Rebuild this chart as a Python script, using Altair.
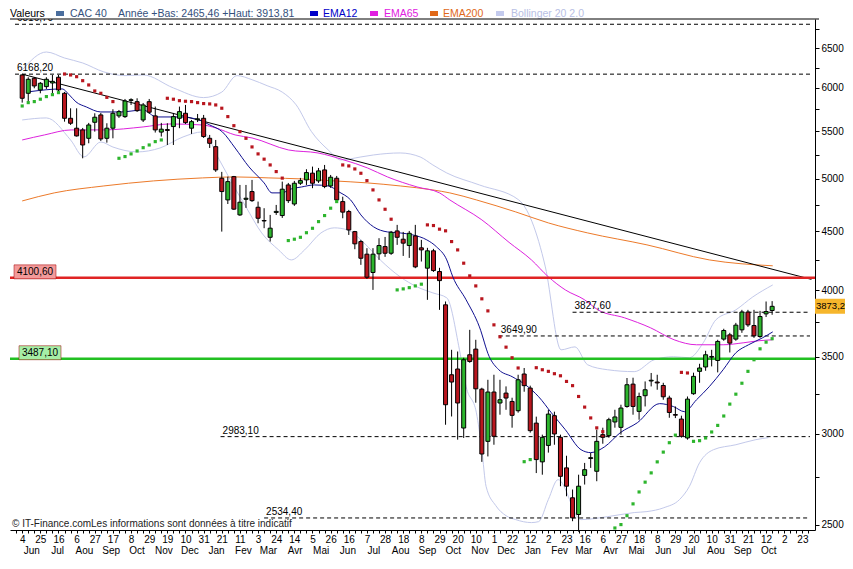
import json
import altair as alt
import pandas as pd

START = pd.Timestamp("2007-06-04")  # week index 0 (weekly candles)

opens = [6158,5936,6118,5976,6016,6060,6130,5936,5646,5535,5516,5424,5601,5684,5424,5535,5673,5665,5852,5837,
         5627,5837,5673,5492,5520,5553,5646,5703,5535,5630,5646,5424,5334,5007,4794,5023,4652,4800,4875,4724,
         4600,4448,4675,4646,4940,4755,4957,4990,5058,4980,5091,4930,5007,4778,4684,4499,4410,4300,4145,4303,
         4366,4308,4505,4431,4375,4460,4355,4181,4329,4153,3885,3377,3416,3035,3515,3555,3281,2955,3262,3191,
         3255,3201,3142,3382,3288,3065,2836,2931,3111,2979,2802,2639,2552,2760,2855,2783,2995,2989,3072,3039,
         3169,3314,3138,3238,3335,3328,3305,3223,3118,3090,2975,3251,3400,3430,3498,3475,3627,3658,3627,3695,
         3829,3727,3646,3815,3841]
highs = [6168,6130,6133,6072,6130,6158,6158,5952,5760,5760,5538,5594,5703,5707,5590,5749,5741,5869,5877,5877,
         5822,5869,5780,5594,5590,5707,5780,5799,5627,5695,5684,5461,5406,5071,5023,5030,4940,4940,4990,4778,
         4715,4652,4746,4973,4960,4980,5010,5098,5125,5111,5142,5040,5030,4825,4699,4505,4425,4352,4352,4440,
         4451,4505,4560,4496,4505,4560,4425,4355,4346,4184,3911,3550,3538,3494,3695,3622,3290,3343,3377,3343,
         3299,3225,3377,3423,3304,3105,2995,3148,3136,2995,2871,2683,2764,2830,2887,3025,3037,3098,3148,3180,
         3355,3357,3258,3332,3389,3377,3323,3238,3169,3111,3233,3391,3452,3543,3550,3622,3703,3673,3747,3846,
         3846,3846,3838,3911,3913.81]
lows = [5826,5838,5996,5936,5988,5936,5940,5608,5571,5443,5211,5370,5497,5395,5377,5424,5650,5650,5799,5718,
        5604,5695,5487,5443,5352,5352,5535,5582,5472,5604,5428,5320,5071,4499,4755,4699,4643,4718,4775,4575,
        4530,4410,4652,4624,4765,4737,4940,4940,4908,4960,4908,4911,4775,4621,4469,4343,4209,4092,4003,4251,
        4277,4294,4381,4285,4268,4181,4237,3924,4150,3846,3055,3106,2965,2975,3459,3193,2836,2867,2935,3117,
        3148,3037,3130,3264,3007,2773,2764,2889,2935,2701,2647,2518,2465.46,2710,2802,2728,2941,2977,3037,2995,
        3161,3117,3086,3169,3299,3277,3212,3098,3096,2977,2965,3244,3323,3404,3434,3393,3615,3531,3615,3673,
        3717,3636,3636,3791,3808]
closes = [5877,6105,6024,6056,6105,6080,5976,5646,5590,5450,5352,5571,5658,5417,5535,5703,5722,5845,5860,5733,
          5799,5715,5516,5524,5510,5665,5722,5597,5608,5640,5443,5370,5091,4875,4973,4706,4772,4810,4787,4621,
          4596,4530,4685,4898,4787,4957,4983,5064,4957,5081,4924,5017,4794,4678,4514,4390,4265,4106,4300,4375,
          4308,4493,4448,4396,4484,4192,4337,4329,4161,4078,3180,3328,3191,3480,3468,3283,2881,3262,2985,3212,
          3223,3113,3343,3304,3019,2849,2979,3121,2999,2755,2701,2535,2701,2792,2860,2955,2979,3086,3103,3159,
          3310,3169,3233,3277,3340,3322,3231,3131,3114,2985,3216,3366,3423,3515,3503,3610,3690,3598,3730,3829,
          3732,3651,3795,3833,3873.2]

# Parabolic SAR (one dot per week), g = below price, r = above price
sar_values = [5787,5826,5838,5866,5897,5920,5944,
              6170,6158,6137,6088,6036,5964,5936,5888,5838,
              5211,5229,5257,5288,5323,5352,5388,5406,
              5877,5866,5849,5842,5838,5826,5815,5811,5799,
              5761,5665,5563,5497,5424,5331,5257,5202,5142,5074,5008,
              4419,4431,4448,4489,4529,4590,4646,4715,4778,
              5142,5132,5101,5057,4983,4891,4794,4705,4612,
              4003,4011,4021,4035,4049,
              4560,4554,4521,4506,4410,4337,4223,4117,4035,3932,3838,3732,3644,3569,3494,3423,
              2837,2849,
              3425,3411,3400,3384,3370,3332,3304,3233,3165,3097,3036,3013,
              2463,2484,2501,2546,2607,2670,2723,2774,2836,2892,2947,2992,
              3393,3389,
              2955,2959,2975,3011,3051,3109,3184,3248,3320,3400,3480,3557,3605,3630]
sar_side = list("g" * 7 + "r" * 9 + "g" * 8 + "r" * 20 + "g" * 9 + "r" * 9 + "g" * 5 + "r" * 16
                + "g" * 2 + "r" * 12 + "g" * 12 + "r" * 2 + "g" * 14)

ema12_idx = [1.3,6.6,7.8,8.9,10.6,13.0,16.3,20.0,22.2,26.1,29.3,31.0,33.1,35.2,37.5,40.0,41.3,42.9,44.5,46.2,
             48.3,50.6,52.4,54.3,56.0,58.1,60.4,62.5,64.6,66.9,68.5,70.2,71.2,73.4,75.6,77.2,78.8,81.0,83.2,85.4,
             87.5,89.8,92.4,94.0,96.3,98.9,101.7,105.4,107.7,109.5,111.5,113.6,115.9,118.0,120.1,122.4,124.1]
ema12_val = [5956,5988,5916,5834,5776,5718,5718,5741,5661,5661,5627,5571,5494,5320,5122,4960,4862,4862,4901,4920,
             4940,4930,4871,4794,4652,4542,4496,4487,4469,4425,4364,4251,4109,3924,3717,3504,3411,3364,3310,3231,
             3129,3025,2906,2889,2923,3007,3067,3187,3168,3136,3212,3297,3411,3529,3586,3636,3680]

ema65_idx = [0,3.7,8.1,13.5,20.0,24.4,29.8,32.0,35.2,38.0,44.0,48.9,53.2,57.1,60.4,65.3,69.0,70.7,76.0,80.5,
             84.2,87.0,89.8,93.0,95.2,99.6,103.9,107.8,111.5,115.9,119.2,121.8,124.1]
ema65_val = [5406,5461,5516,5516,5549,5582,5571,5538,5461,5428,5299,5267,5194,5111,5020,4920,4862,4794,4606,4403,
             4251,4109,4003,3924,3846,3785,3710,3622,3586,3586,3600,3615,3622]

ema200_idx = [0,5.3,13.5,21.7,29.8,35.2,40.8,46.2,51.6,57.1,62.5,67.9,70.7,75.1,81.6,87.0,93.5,103.3,113.6,124.1]
ema200_val = [4784,4862,4930,4980,5010,5020,5010,5000,4980,4960,4930,4891,4862,4794,4680,4578,4487,4381,4251,4201]

bb_up_idx = [0,4,7,10,13.5,17,20,25,30,33,35.5,38,40.5,43,45.3,47.8,50.6,52.7,56,58.1,62.5,65.8,67.9,70.2,75.6,
             82.1,86.5,89.1,91.4,93.5,96.8,101.2,104.5,107.7,110.3,112.6,114.7,118,120.8,124.1]
bb_up_val = [6220,6448,6371,6308,6196,6150,6158,6000,5885,5950,6150,6100,6027,5950,5800,5500,5299,5194,5225,5246,
             5267,5225,5142,5060,4940,4794,4192,3550,3571,3445,3411,3398,3480,3501,3494,3600,3770,3846,3947,4043]
bb_lo_idx = [0,4,8,10.2,13,15,19,22.8,26.6,29.8,32.6,35,37,39.6,42.4,44.5,46.7,49.4,51.6,53.8,56.5,59.2,62.5,65.3,
             67.9,70.2,72.3,73.4,75.1,76.0,76.7,78.3,80.0,81.6,84.2,85.4,87.0,88.6,92.4,96.8,101.2,103.3,106.1,108.7,
             110.3,112.0,114.3,118.0,121.3,123.4]
bb_lo_val = [5627,5650,5406,5225,5384,5330,5278,5320,5439,5494,5194,4926,4727,4487,4337,4251,4337,4487,4533,4514,
             4399,4251,4109,4027,3979,3940,3550,3297,3129,2906,2700,2598,2546,2526,2511,2516,2630,2737,2526,2541,
             2562,2567,2587,2630,2699,2831,2906,2935,2965,2977]

trend_idx = [0, 130.5]
trend_val = [6168, 4088]

# dashed support / resistance levels: value, first week, label
dash_levels = [6816.70, 6168.20, 3827.60, 3649.90, 2983.10, 2534.40]
dash_start = [-1.19, -1.19, 91.0, 78.8, 32.8, 40.0]
dash_labels = ["6816,70", "6168,20", "3827,60", "3649,90", "2983,10", "2534,40"]

red_level, red_label = 4100.60, "4100,60"
green_level, green_label = 3487.10, "3487,10"
last_value, last_label = 3873.2, "3873,2"

day_labels = ["4","25","16","6","27","17","8","29","19","10","31","21","11","3","24","14","5","26","16","7",
              "28","18","8","29","20","10","1","22","12","2","23","16","6","27","18","8","29","20","10","31",
              "21","12","2","23"]
month_names = ["Jun","Jul","Aou","Sep","Oct","Nov","Dec","Jan","Fev","Mar","Avr","Mai",
               "Jun","Jul","Aou","Sep","Oct","Nov","Dec","Jan","Fev","Mar","Avr","Mai",
               "Jun","Jul","Aou","Sep","Oct"]

legend_texts = ["Valeurs", "CAC 40", "Année +Bas: 2465,46 +Haut: 3913,81", "EMA12", "EMA65", "EMA200",
                "Bollinger 20 2.0"]
legend_text_x = [0, 60, 108, 313, 374, 433, 501]
legend_text_col = ["#000000", "#34507c", "#34507c", "#0000c8", "#e020e0", "#e06818", "#b8c0e4"]
legend_sq_x = [46, 300, 360, 420, 486]
legend_sq_col = ["#4a6e9e", "#0000c8", "#e020e0", "#e06818", "#c4cbee"]

copyright_text = "© IT-Finance.comLes informations sont données à titre indicatif"

# ---------------------------------------------------------------- build
W, H = 805, 511
FONT = "Liberation Sans"
RED, GREEN = "#b8161e", "#2db52d"

candles = pd.DataFrame({"i": range(len(opens)), "open": opens, "high": highs, "low": lows, "close": closes})
candles["dir"] = ["up" if c >= o else "down" for o, c in zip(opens, closes)]
sar = pd.DataFrame({"i": range(len(sar_values)), "sar": sar_values, "side": sar_side})

def line_df(idx, val, name):
    return pd.DataFrame({"i": idx, "v": val, "s": name})

xscale = alt.Scale(domain=[-1.19, 130.26], nice=False, zero=False)
yscale = alt.Scale(type="log", domain=[2474, 6889], nice=False)

day_js = json.dumps(day_labels)
xaxis = alt.Axis(values=list(range(-1, 131)), tickSize=3, tickColor="black", domainColor="black",
                 labelExpr=f"(datum.value >= 0 && datum.value % 3 == 0) ? {day_js}[floor(datum.value / 3)] : ''",
                 labelFont=FONT, labelFontSize=10, labelColor="black", labelPadding=1,
                 labelOverlap=False, labelFlush=False, labelBound=False, grid=False, title=None)
yaxis = alt.Axis(orient="right", values=list(range(2500, 6751, 250)), tickSize=4, tickColor="black",
                 domainColor="black", labelExpr="datum.value % 500 == 0 ? datum.label : ''", format="d",
                 labelFont=FONT, labelFontSize=10, labelColor="black", labelPadding=2,
                 labelOverlap=False, grid=False, title=None)

def X(f="i"):
    return alt.X(f"{f}:Q", scale=xscale, axis=xaxis)

def Y(f):
    return alt.Y(f"{f}:Q", scale=yscale, axis=yaxis)

layers = []

# Bollinger bands
for idx, val, nm in [(bb_up_idx, bb_up_val, "up"), (bb_lo_idx, bb_lo_val, "lo")]:
    layers.append(alt.Chart(line_df(idx, val, nm)).mark_line(color="#c3c9ea", strokeWidth=1, interpolate="monotone")
                  .encode(x=X(), y=Y("v")))
# EMAs
layers.append(alt.Chart(line_df(ema200_idx, ema200_val, "e200")).mark_line(color="#ec7a2a", strokeWidth=1, interpolate="monotone")
              .encode(x=X(), y=Y("v")))
layers.append(alt.Chart(line_df(ema65_idx, ema65_val, "e65")).mark_line(color="#dd22dd", strokeWidth=1, interpolate="monotone")
              .encode(x=X(), y=Y("v")))
# trend line
layers.append(alt.Chart(line_df(trend_idx, trend_val, "t")).mark_line(color="black", strokeWidth=1, clip=True)
              .encode(x=X(), y=Y("v")))

# dashed levels
dl = pd.DataFrame({"v": dash_levels, "start": dash_start, "end": [130.26] * len(dash_levels), "lab": dash_labels})
layers.append(alt.Chart(dl).mark_rule(color="black", strokeWidth=1, strokeDash=[4, 3])
              .encode(x=X("start"), x2="end", y=Y("v")))
layers.append(alt.Chart(dl).mark_text(align="left", baseline="bottom", dx=2, dy=-1, font=FONT, fontSize=10,
                                      color="black", clip=True)
              .encode(x=X("start"), y=Y("v"), text="lab:N"))

# solid red / green levels
sl = pd.DataFrame({"v": [red_level, green_level], "c": ["#e02424", "#22c022"]})
layers.append(alt.Chart(sl).mark_rule(strokeWidth=2.5)
              .encode(x=alt.value(0), x2=alt.value(W), y=Y("v"), color=alt.Color("c:N", scale=None)))

# EMA12 above levels
layers.append(alt.Chart(line_df(ema12_idx, ema12_val, "e12")).mark_line(color="#101090", strokeWidth=1, interpolate="monotone")
              .encode(x=X(), y=Y("v")))

# candles
base = alt.Chart(candles)
layers.append(base.mark_rule(color="black", strokeWidth=1).encode(x=X(), y=Y("low"), y2="high"))
layers.append(base.mark_bar(size=4, stroke="black", strokeWidth=1).encode(
    x=X(), y=Y("open"), y2="close",
    color=alt.Color("dir:N", scale=alt.Scale(domain=["up", "down"], range=[GREEN, RED]), legend=None)))

# parabolic SAR
layers.append(alt.Chart(sar).mark_square(size=10, opacity=1, clip=True).encode(
    x=X(), y=Y("sar"),
    color=alt.Color("side:N", scale=alt.Scale(domain=["g", "r"], range=["#1e9e28", "#ad4350"]), legend=None)))

# label boxes for red / green / last value
boxes = pd.DataFrame({"v": [red_level, green_level], "lab": [red_label, green_label],
                      "xc": [25, 30], "fill": ["#f39a9a", "#a6eea6"]})
layers.append(alt.Chart(boxes).mark_tick(orient="horizontal", size=42, thickness=14, yOffset=-6, opacity=1,
                                         stroke="#a00000", strokeWidth=0.5)
              .encode(x=alt.X("xc:Q", scale=None), y=Y("v"), color=alt.Color("fill:N", scale=None)))
layers.append(alt.Chart(boxes).mark_text(font=FONT, fontSize=10, color="black", baseline="middle", dy=-6)
              .encode(x=alt.X("xc:Q", scale=None), y=Y("v"), text="lab:N"))
lastdf = pd.DataFrame({"v": [last_value], "lab": [last_label]})
layers.append(alt.Chart(lastdf).mark_tick(orient="horizontal", size=40, thickness=15, opacity=1, color="#f6b62c")
              .encode(x=alt.value(W + 20), y=Y("v")))
layers.append(alt.Chart(lastdf).mark_text(font=FONT, fontSize=9.5, color="black", align="left", baseline="middle")
              .encode(x=alt.value(W + 1), y=Y("v"), text="lab:N"))

# month labels under the day labels
mdates = [pd.Timestamp(2007 + (5 + k) // 12, (5 + k) % 12 + 1, 15) for k in range(len(month_names))]
months = pd.DataFrame({"i": [(d - START).days / 7 for d in mdates], "m": month_names})
layers.append(alt.Chart(months).mark_text(font=FONT, fontSize=10, color="black", baseline="alphabetic")
              .encode(x=X(), y=alt.value(H + 24), text="m:N"))

# legend row
lt = pd.DataFrame({"x": legend_text_x, "t": legend_texts, "c": legend_text_col})
layers.append(alt.Chart(lt).mark_text(font=FONT, fontSize=10.5, align="left", baseline="middle")
              .encode(x=alt.X("x:Q", scale=None), y=alt.value(-5), text="t:N", color=alt.Color("c:N", scale=None)))
ls = pd.DataFrame({"x": legend_sq_x, "x2": [v + 8 for v in legend_sq_x], "c": legend_sq_col})
layers.append(alt.Chart(ls).mark_rect()
              .encode(x=alt.X("x:Q", scale=None), x2="x2:Q", y=alt.value(-8), y2=alt.value(-3),
                      color=alt.Color("c:N", scale=None)))
# top frame line
layers.append(alt.Chart(pd.DataFrame({"a": [0]})).mark_rule(color="black", strokeWidth=1)
              .encode(x=alt.value(0), x2=alt.value(W + 4), y=alt.value(0)))
# copyright
layers.append(alt.Chart(pd.DataFrame({"t": [copyright_text]})).mark_text(font=FONT, fontSize=10, align="left",
                                                                          baseline="middle", color="#222222")
              .encode(x=alt.value(2), y=alt.value(H - 6), text="t:N"))

chart = alt.layer(*layers).properties(
    width=W, height=H,
    autosize=alt.AutoSizeParams(type="none"),
    padding={"left": 2, "top": 11, "right": 30, "bottom": 26},
    background="white",
).configure_view(stroke=None)

chart.save("out.html", embed_options={"renderer": "svg", "actions": False})
